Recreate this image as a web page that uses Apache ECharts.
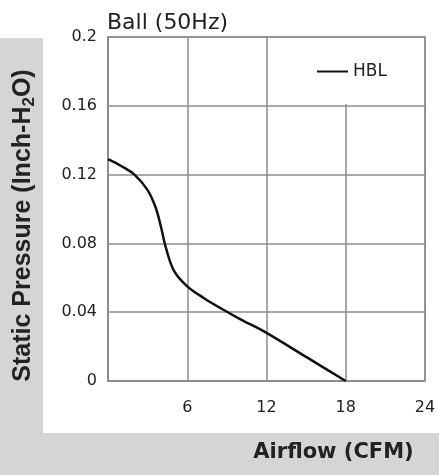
<!DOCTYPE html>
<html>
<head>
    <meta charset="UTF-8">
    <title></title>
    <script type="text/javascript" src="https://cdn.jsdelivr.net/npm/echarts@6/dist/echarts.min.js"></script>
    <style>
        body { margin: 0; background: #fff; }
    </style>
</head>
<body>
<div id="main" style="width: 439px;height:475px;"></div>
<script type="text/javascript">
    // 曲线数据 (CFM, Inch-H2O)
    var airflow = [0, 1, 2, 3, 3.6, 4, 4.4, 5, 6, 7.3, 8.6, 10, 12, 15, 18];
    var pressure = [0.129, 0.125, 0.12, 0.111, 0.101, 0.09, 0.077, 0.064, 0.055, 0.048, 0.042, 0.036, 0.028, 0.014, 0];
    var xTicks = [0, 6, 12, 18, 24];
    var yTicks = [0, 0.04, 0.08, 0.12, 0.16, 0.2];
    var seriesName = 'HBL';

    var points = [];
    for (var i = 0; i < airflow.length; i++) {
        points.push([airflow[i], pressure[i]]);
    }

    var font = 'DejaVu Sans, sans-serif';
    var fontNarrow = 'Liberation Sans, Arial, sans-serif';
    var gridColor = '#8c8c8c';
    var myChart = echarts.init(document.getElementById('main'));

    var option = {
        animation: false,
        textStyle: {fontFamily: font},
        title: {
            text: 'Ball (50Hz)',
            left: 102,
            top: 7,
            textStyle: {fontSize: 22, fontWeight: 'normal', color: '#222', fontFamily: font}
        },
        graphic: [
            // 灰色背景
            {type: 'rect', z: -10, shape: {x: 0, y: 38, width: 43, height: 437}, style: {fill: '#d4d5d7'}},
            {type: 'rect', z: -10, shape: {x: 0, y: 433, width: 439, height: 42}, style: {fill: '#d4d5d7'}}
        ],
        legend: {
            data: [seriesName],
            left: 305,
            top: 38,
            padding: [25, 12, 24, 12],
            backgroundColor: '#fff',
            itemWidth: 31,
            itemHeight: 14,
            itemGap: 7,
            textStyle: {fontSize: 17, color: '#222', fontFamily: font},
            icon: 'path://M0,6 L31,6 L31,8 L0,8 Z'
        },
        grid: {
            left: 108,
            top: 37,
            right: 14,
            bottom: 94,
            show: true,
            borderColor: gridColor,
            borderWidth: 1.5
        },
        xAxis: {
            type: 'value',
            min: xTicks[0],
            max: xTicks[xTicks.length - 1],
            interval: 6,
            name: 'Airflow (CFM)',
            nameLocation: 'middle',
            nameGap: 61,
            nameTextStyle: {fontSize: 21, fontWeight: 'bold', color: '#222', padding: [0, 0, 0, 134], fontFamily: font},
            axisLine: {lineStyle: {color: gridColor, width: 1.5}},
            axisTick: {show: false},
            axisLabel: {
                fontSize: 16, color: '#222', margin: 19, fontFamily: font,
                formatter: function (v) { return v === 0 ? '' : String(v); }
            },
            splitLine: {lineStyle: {color: gridColor, width: 1.5}}
        },
        yAxis: {
            type: 'value',
            min: yTicks[0],
            max: yTicks[yTicks.length - 1],
            interval: 0.04,
            name: '{b|Static Pressure (Inch-H}{s|2}{b|O)}',
            nameLocation: 'middle',
            nameGap: 70,
            nameTextStyle: {
                padding: [0, 33, 0, 0],
                rich: {
                    b: {fontSize: 25, fontWeight: 'bold', color: '#222', fontFamily: fontNarrow},
                    s: {fontSize: 17, fontWeight: 'bold', color: '#222', fontFamily: fontNarrow, padding: [12, 0, 0, 0]}
                }
            },
            axisLine: {lineStyle: {color: gridColor, width: 1.5}},
            axisTick: {show: false},
            axisLabel: {
                fontSize: 16, color: '#222', margin: 11, fontFamily: font,
                formatter: function (v) {
                    for (var k = 0; k < yTicks.length; k++) {
                        if (Math.abs(yTicks[k] - v) < 1e-9) return String(yTicks[k]);
                    }
                    return '';
                }
            },
            splitLine: {lineStyle: {color: gridColor, width: 1.5}}
        },
        series: [
            {
                name: seriesName,
                type: 'line',
                data: points,
                smooth: 0.35,
                symbol: 'none',
                itemStyle: {color: '#111'},
                lineStyle: {color: '#111', width: 2.5}
            }
        ]
    };

    myChart.setOption(option);
</script>
</body>
</html>
